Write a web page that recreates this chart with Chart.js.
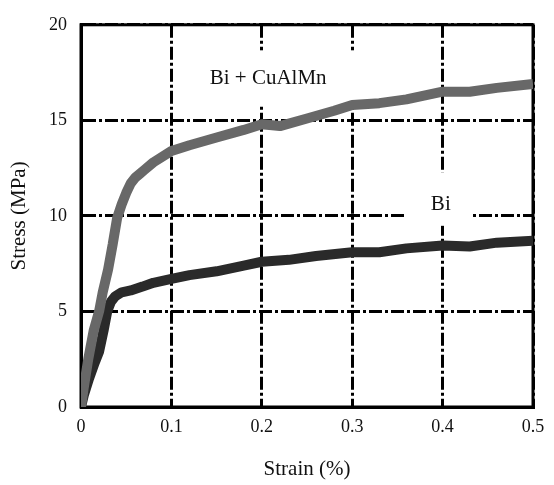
<!DOCTYPE html>
<html>
<head>
<meta charset="utf-8">
<script src="https://cdn.jsdelivr.net/npm/chart.js@4"></script>
<style>
  html, body { margin: 0; padding: 0; background: #fff; }
  #wrap { width: 554px; height: 485px; }
</style>
</head>
<body>
<div id="wrap"><canvas id="stressChart" width="554" height="485"></canvas></div>
<script>
// Bi + CuAlMn curve (grey)
const cuStrain = [0, 0.003, 0.008, 0.014, 0.02, 0.024, 0.03, 0.035, 0.04, 0.045, 0.05, 0.055, 0.06, 0.065, 0.07, 0.08, 0.1, 0.12, 0.15, 0.18, 0.2, 0.22, 0.25, 0.28, 0.3, 0.33, 0.36, 0.4, 0.43, 0.46, 0.5];
const cuStress = [0, 1, 2.5, 4, 5, 6, 7.2, 8.5, 9.9, 10.6, 11.2, 11.7, 12.0, 12.2, 12.4, 12.8, 13.4, 13.7, 14.1, 14.5, 14.8, 14.7, 15.1, 15.5, 15.8, 15.9, 16.1, 16.5, 16.5, 16.7, 16.9];

// Bi curve (dark)
const biStrain = [0, 0.003, 0.009, 0.015, 0.02, 0.025, 0.029, 0.033, 0.038, 0.045, 0.055, 0.068, 0.08, 0.1, 0.12, 0.15, 0.18, 0.2, 0.23, 0.26, 0.3, 0.33, 0.36, 0.4, 0.43, 0.46, 0.5];
const biStress = [0, 0.6, 1.5, 2.3, 2.9, 4.0, 5.0, 5.5, 5.8, 6.0, 6.1, 6.3, 6.5, 6.7, 6.9, 7.1, 7.4, 7.6, 7.7, 7.9, 8.1, 8.1, 8.3, 8.45, 8.4, 8.6, 8.7];

const xTicks = [0, 0.1, 0.2, 0.3, 0.4, 0.5];
const xTickLabels = ['0', '0.1', '0.2', '0.3', '0.4', '0.5'];
const yTicks = [0, 5, 10, 15, 20];

// in-plot labels, placed in data units
const curveLabels = [
    { text: 'Bi + CuAlMn', x: 0.207, y: 17.2, box: [83, 87, 28, 27] },
    { text: 'Bi', x: 0.398, y: 10.58, box: [36, 31, 32, 21] }
];

function toPoints(xs, ys) {
    return xs.map((x, i) => ({ x: x, y: ys[i] }));
}

const serif = "'Liberation Serif', 'DejaVu Serif', serif";

const frameAndLabels = {
    id: 'frameAndLabels',
    beforeDatasetsDraw(chart) {
        const { ctx, chartArea, scales } = chart;
        ctx.save();
        // white boxes behind labels cut the grid
        curveLabels.forEach(l => {
            const px = scales.x.getPixelForValue(l.x);
            const py = scales.y.getPixelForValue(l.y);
            ctx.fillStyle = '#fff';
            ctx.fillRect(px - l.box[0], py - l.box[2], l.box[0] + l.box[1], l.box[2] + l.box[3]);
        });
        // full frame
        ctx.strokeStyle = '#000';
        ctx.lineWidth = 3;
        ctx.strokeRect(chartArea.left, chartArea.top, chartArea.right - chartArea.left, chartArea.bottom - chartArea.top);
        // label text
        ctx.fillStyle = '#111';
        ctx.font = '21px ' + serif;
        ctx.textAlign = 'center';
        ctx.textBaseline = 'middle';
        curveLabels.forEach(l => {
            ctx.fillText(l.text, scales.x.getPixelForValue(l.x), scales.y.getPixelForValue(l.y));
        });
        ctx.restore();
    }
};

new Chart(document.getElementById('stressChart'), {
    type: 'line',
    data: {
        datasets: [{
            label: 'Bi + CuAlMn',
            data: toPoints(cuStrain, cuStress),
            borderColor: '#686868',
            borderWidth: 10,
            pointRadius: 0,
            tension: 0,
            borderJoinStyle: 'bevel'
        }, {
            label: 'Bi',
            data: toPoints(biStrain, biStress),
            borderColor: '#2a2a2a',
            borderWidth: 10,
            pointRadius: 0,
            tension: 0,
            borderJoinStyle: 'bevel'
        }]
    },
    options: {
        responsive: false,
        animation: false,
        layout: { padding: { top: 14, right: 21, bottom: 0, left: 0 } },
        plugins: {
            legend: { display: false },
            tooltip: { enabled: false }
        },
        scales: {
            x: {
                type: 'linear',
                min: 0,
                max: 0.5,
                afterBuildTicks: s => { s.ticks = xTicks.map(v => ({ value: v })); },
                afterFit: s => { s.height = 78; },
                ticks: {
                    callback: (v, i) => xTickLabels[i],
                    color: '#111',
                    padding: 9,
                    maxRotation: 0,
                    font: { family: serif, size: 18 }
                },
                grid: { color: '#000', lineWidth: 3, drawTicks: false },
                border: { color: '#000', width: 3, dash: [13, 3, 3, 3] },
                title: {
                    display: true,
                    text: 'Strain (%)',
                    color: '#111',
                    padding: { top: 4, bottom: 3 },
                    font: { family: serif, size: 21 }
                }
            },
            y: {
                type: 'linear',
                min: 0,
                max: 20,
                afterBuildTicks: s => { s.ticks = yTicks.map(v => ({ value: v })); },
                afterFit: s => { s.width = 81; },
                ticks: {
                    color: '#111',
                    padding: 14,
                    font: { family: serif, size: 18 }
                },
                grid: { color: '#000', lineWidth: 3, drawTicks: false },
                border: { color: '#000', width: 3, dash: [13, 3, 3, 3] },
                title: {
                    display: true,
                    text: 'Stress (MPa)',
                    color: '#111',
                    padding: { top: 7, bottom: 4 },
                    font: { family: serif, size: 21 }
                }
            }
        }
    },
    plugins: [frameAndLabels]
});
</script>
</body>
</html>
